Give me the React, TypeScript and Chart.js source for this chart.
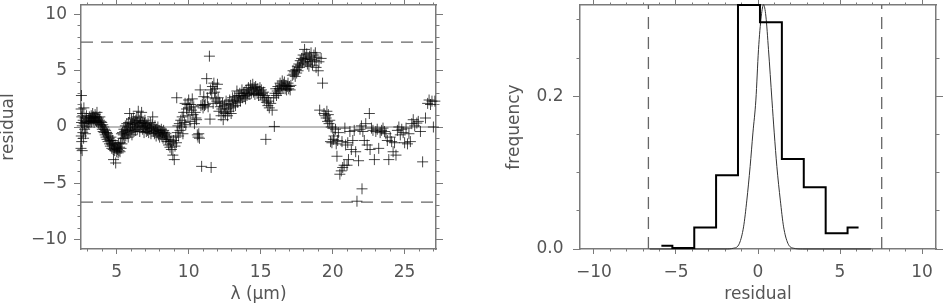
import React, { useEffect, useRef } from 'react';
import { Chart, registerables } from 'chart.js';

Chart.register(...registerables);

// ---------- Left panel: residual vs wavelength ----------
const lambdaUm = [
  2.52, 2.53, 2.54, 2.55, 2.56, 2.57, 2.58, 2.60, 2.61, 2.63, 2.65, 2.67, 2.70, 2.72, 2.74, 2.77, 2.80, 2.83, 2.86, 2.90, 2.93,
  3.00, 3.03, 3.06, 3.10, 3.13, 3.16, 3.20, 3.23, 3.26, 3.30, 3.33, 3.36, 3.40, 3.43, 3.46, 3.50, 3.53, 3.56, 3.60, 3.63, 3.66, 3.70, 3.73, 3.76, 3.80, 3.83, 3.86, 3.90,
  3.93, 3.96, 4.00, 4.03, 4.06, 4.10, 4.13, 4.16, 4.20, 4.23, 4.26, 4.30, 4.33, 4.36, 4.40, 4.43, 4.46, 4.50,
  4.53, 4.56, 4.60, 4.63, 4.66, 4.70, 4.73, 4.76, 4.78, 4.80, 4.83, 4.86, 4.90, 4.93, 4.96, 5.00, 5.03, 5.06, 5.10, 5.13, 5.16, 5.20, 5.23, 5.26, 5.30, 5.33, 5.36, 5.40, 5.43,
  5.46, 5.50, 5.53, 5.56, 5.60, 5.63, 5.66, 5.70, 5.73, 5.76, 5.80, 5.83, 5.86, 5.90, 5.93, 5.96, 6.00, 6.03, 6.06, 6.10, 6.13, 6.16, 6.20, 6.23, 6.26, 6.30, 6.33, 6.36, 6.40, 6.43, 6.46, 6.50, 6.53, 6.56, 6.60, 6.63, 6.66, 6.70, 6.73, 6.76, 6.80, 6.83, 6.86, 6.90, 6.93, 6.96, 7.00, 7.03, 7.06,
  7.10, 7.14, 7.18, 7.22, 7.26, 7.30, 7.34, 7.38, 7.42, 7.46, 7.50, 7.54, 7.58, 7.62, 7.66, 7.70, 7.74, 7.78, 7.82, 7.86, 7.90, 7.94, 7.98, 8.02, 8.06, 8.10, 8.14, 8.18, 8.22, 8.26, 8.30, 8.34, 8.38, 8.42,
  8.46, 8.50, 8.55, 8.60, 8.65, 8.70, 8.75, 8.80, 8.85, 8.90, 8.95, 9.00, 9.05, 9.10, 9.15,
  9.17, 9.20, 9.25, 9.30, 9.35, 9.40, 9.45, 9.50, 9.55, 9.60, 9.65, 9.70, 9.75, 9.80, 9.85, 9.90, 9.95, 10.00, 10.05, 10.10, 10.15, 10.20, 10.25, 10.30, 10.35, 10.40, 10.45, 10.50, 10.55, 10.60, 10.65, 10.70, 10.75,
  10.80, 10.85, 10.90, 10.95, 11.00, 11.05, 11.10, 11.15, 11.25, 11.30, 11.35, 11.44, 11.48, 11.52, 11.56, 11.60, 11.65, 11.70, 11.75, 11.80, 11.85, 11.90, 11.95, 12.00, 12.05, 12.10, 12.15, 12.20, 12.25, 12.30, 12.35, 12.40, 12.45,
  12.50, 12.55, 12.60, 12.65, 12.70, 12.75, 12.80, 12.85, 12.90, 12.95, 13.00, 13.05, 13.10, 13.15, 13.20, 13.25, 13.30, 13.35, 13.40, 13.45, 13.50, 13.55, 13.60, 13.65, 13.70, 13.75, 13.80, 13.85, 13.90, 13.95,
  14.00, 14.05, 14.10, 14.15, 14.20, 14.25, 14.30, 14.35, 14.40, 14.45, 14.50, 14.55, 14.60, 14.65, 14.70, 14.75, 14.80, 14.85, 14.90, 14.95, 15.00, 15.05, 15.10, 15.15, 15.20, 15.25, 15.30, 15.36, 15.40, 15.45, 15.50,
  15.55, 15.60, 15.70, 15.80, 15.90, 15.95, 16.00, 16.05, 16.10, 16.15, 16.20, 16.25, 16.30, 16.35, 16.40, 16.45, 16.50, 16.55, 16.60, 16.65, 16.70, 16.75, 16.80, 16.85, 16.90, 16.95, 17.00, 17.05, 17.10,
  17.20, 17.25, 17.30, 17.35, 17.40, 17.45, 17.50, 17.55, 17.60, 17.65, 17.70, 17.75, 17.80, 17.85, 17.90, 17.95, 18.00, 18.05, 18.10, 18.15, 18.20, 18.25, 18.30, 18.35, 18.40, 18.45, 18.50, 18.55, 18.60,
  18.70, 18.75, 18.80, 18.85, 18.90, 19.00, 19.05, 19.10, 19.20, 19.30,
  19.40, 19.50, 19.55, 19.60, 19.65, 19.70, 19.75, 19.80, 19.85, 19.90, 19.95, 20.00, 20.05, 20.10, 20.20, 20.25, 20.30, 20.35, 20.40,
  20.50, 20.60, 20.65, 20.70, 20.80, 20.85, 20.90, 21.00, 21.05, 21.10, 21.20, 21.30, 21.40, 21.50, 21.60, 21.69, 21.80, 21.90, 22.00, 22.04, 22.10, 22.20, 22.30, 22.40, 22.55, 22.60, 22.70,
  22.80, 22.90, 23.00, 23.10, 23.20, 23.30, 23.40, 23.50, 23.60, 23.70, 23.80, 23.90, 24.00, 24.10, 24.20, 24.30, 24.40, 24.50, 24.60, 24.70, 24.80, 24.90, 25.00, 25.10, 25.20, 25.30, 25.40, 25.50, 25.60, 25.70, 25.85, 25.95, 26.10, 26.25, 26.45, 26.60, 26.70, 26.80, 26.90, 27.00, 27.10,
];

const residual = [
  -1.9, 1.6, -0.8, 2.8, 0.4, -1.3, 0.9, -2.1, 0.1, 1.2, -0.5, 0.6, -1.0, 1.7, 0.3, -0.2, 0.8, -0.6, 0.5, 1.0, 0.0,
  0.4, 0.7, 0.3, 0.9, 0.5, 0.8, 0.6, 1.0, 0.5, 0.8, 1.2, 0.6, 0.9, 0.4, 0.8, 1.1, 0.6, 0.9, 0.5, 1.3, 0.7, 0.4, 0.8, 0.3, 0.6, 0.9, 0.2, 0.5,
  0.1, 0.4, -0.2, 0.2, -0.4, 0.0, -0.5, -0.2, -0.7, -0.3, -0.9, -0.5, -1.1, -0.6, -1.3, -0.8, -1.0, -1.5,
  -1.2, -1.7, -0.9, -1.5, -1.9, -1.2, -1.6, -2.0, -2.9, -1.4, -1.8, -2.1, -1.6, -3.2, -1.9, -2.2, -1.7, -2.0, -2.3, -1.5, -2.1, -1.8, -2.2, -1.4, -1.9, -0.6, -1.5, -0.5, -1.0,
  -0.7, -0.2, -1.0, -0.4, 0.1, -0.8, -0.3, 0.3, -0.6, 0.0, -0.9, 0.4, -0.3, 1.2, -0.5, 0.2, -0.2, 0.7, -0.7, 0.3, -0.1, 0.8, -0.4, 0.2, 0.5, -0.3, 0.6, 0.0, 0.9, -0.2, 0.4, 1.4, 0.1, 0.6, -0.4, 0.3, 0.8, 0.0, 1.3, 0.4, -0.2, 0.5, 0.1, -0.5, 0.3, 0.6, -0.1, 0.2, -0.4,
  0.1, -0.3, 0.3, -0.5, 0.0, -0.2, 0.4, -0.6, -0.1, 0.2, 0.9, -0.4, -0.1, -0.6, 0.1, -0.3, -0.8, -0.2, -0.5, 0.0, -0.7, -0.3, -0.9, -0.4, -0.6, -0.2, -0.8, -0.5, -1.0, -0.3, -0.7, -0.5, -1.1, -0.6,
  -0.9, -1.3, -0.8, -1.6, -1.1, -1.8, -1.3, -2.0, -1.5, -2.5, -1.2, -2.9, -1.7, -0.9, -1.4,
  2.6, -0.5, 0.1, -0.8, 0.3, -0.3, 0.6, 0.0, 0.9, -0.6, 1.3, 0.4, 2.1, 0.2, 1.6, 2.0, 1.0, 2.4, 1.7, 0.5, 2.0, 1.5, 2.5, 1.1, 1.8, 0.3, 1.3, 0.8, 0.65, -0.7, -0.9, -0.6, -1.0,
  3.3, 1.9, -3.5, 2.0, 1.7, 2.7, 1.9, 2.0, 4.3, 2.6, 1.8, 6.3, 0.7, 3.3, -3.6, 3.0, 3.6, 2.1, 3.9, 3.1, 2.5, 3.4, 2.3, 3.8, 2.6, 1.4, 2.2, 1.8, 1.0, 1.6, 2.1, 0.65, 1.3,
  1.9, 1.2, 2.3, 1.6, 1.0, 2.0, 1.4, 2.4, 1.7, 1.2, 2.1, 2.6, 1.8, 2.3, 2.7, 1.9, 2.4, 3.2, 2.2, 2.8, 2.5, 3.0, 2.3, 2.8, 3.3, 2.6, 3.0, 2.7, 3.1, 2.5,
  3.3, 2.8, 3.0, 3.5, 2.9, 3.2, 3.7, 3.0, 3.4, 3.8, 3.1, 3.5, 2.9, 3.6, 3.3, 3.0, 3.4, 2.8, 3.2, 3.5, 2.9, 3.3, 3.0, 2.6, 3.1, 2.4, 2.8, -1.1, 2.2, 2.6, 1.9,
  2.3, 1.7, 2.1, 1.5, 2.6, 0.05, 3.0, 3.4, 2.8, 3.2, 3.6, 3.0, 3.4, 3.9, 3.3, 3.7, 4.1, 3.5, 3.8, 4.0, 3.4, 3.7, 3.3, 3.6, 3.9, 3.4, 3.6, 3.3, 3.7,
  4.6, 5.0, 4.7, 4.9, 4.5, 5.1, 4.8, 5.4, 5.0, 5.6, 5.3, 5.9, 5.5, 6.1, 5.7, 6.4, 6.0, 6.9, 6.2, 5.8, 6.5, 5.6, 6.1, 5.4, 6.3, 5.8, 6.6, 6.0, 5.5,
  6.4, 5.9, 6.6, 5.3, 6.2, 5.0, 5.8, 1.5, 6.1, 3.9,
  1.2, 1.0, 0.8, 1.4, 0.5, 1.1, 0.3, 0.6, -1.3, 0.0, -1.4, -0.1, -1.1, -0.8, -0.2, -1.5, -2.6, -1.2, -0.5,
  -4.2, -3.9, -1.3, -3.6, -3.4, -0.1, -1.6, -3.4, -1.4, -2.9, -0.4, -2.0, -1.2, -0.3, -2.2, -6.6, -3.0, -0.2, 0.1, -5.5, -0.4, -1.2, 0.3, -1.6, 1.2, -2.0, -0.1,
  -0.3, -2.9, -0.4, -0.2, -1.9, -0.5, -0.3, -0.1, -0.4, -0.6, -1.2, -2.9, -0.9, -1.3, -2.2, -1.4, -2.5, -0.3, 0.0, -0.7, -0.2, -0.5, -1.4, -0.1, -1.5, -0.6, -1.3, 0.3, 0.65, 0.1, 0.35, 0.5, -0.4, -3.1, 0.8, 2.1, 2.4, 2.0, 2.3, 0.0, 2.3,
];

const upperLimit = 7.54;
const lowerLimit = -6.68;
const lambdaMin = 2.52;
const lambdaMax = 27.18;
const residualMin = -10.85;
const residualMax = 10.85;

const leftXTicks = [5, 10, 15, 20, 25];
const leftYTicks = [-10, -5, 0, 5, 10];

// ---------- Right panel: histogram of residuals ----------
const binCenters = [-5.89, -4.55, -3.22, -1.89, -0.55, 0.79, 2.12, 3.46, 4.79, 6.13];
const binFrequency = [0.0043, 0.0013, 0.028, 0.0965, 0.3195, 0.297, 0.118, 0.081, 0.0205, 0.028];

const gaussX = [-6.6, -2.0, -1.5, -1.13, -0.88, -0.68, -0.48, -0.31, -0.13, 0.03, 0.2, 0.34, 0.48, 0.64, 0.85, 0.99, 1.15, 1.36, 1.56, 1.82, 2.17, 2.7, 6.9];
const gaussY = [0, 0, 0.001, 0.0075, 0.029, 0.064, 0.108, 0.152, 0.195, 0.261, 0.305, 0.32, 0.305, 0.261, 0.195, 0.152, 0.108, 0.064, 0.029, 0.0075, 0.001, 0, 0];

const histXMin = -10.85;
const histXMax = 10.85;
const freqMin = 0;
const freqMax = 0.3195;

const rightXTicks = [-10, -5, 0, 5, 10];
const rightYTicks = [0, 0.2];

// ---------- styling ----------
const FONT_FAMILY = 'DejaVu Sans';
const FONT = { family: FONT_FAMILY, size: 17, lineHeight: 1 };
const AXIS_COLOR = '#7a7a7a';
const TEXT_COLOR = '#555555';
const DASH = [12, 8];

function steps(a: number, b: number, step: number): number[] {
  const out: number[] = [];
  for (let v = a; v <= b + 1e-9; v += step) out.push(Math.round(v * 1000) / 1000);
  return out;
}

function minusLabel(v: number): string {
  return v < 0 ? '\u2212' + Math.abs(v) : String(v);
}

type AxisSpec = {
  position: 'left' | 'right' | 'top' | 'bottom';
  min: number;
  max: number;
  ticks: number[];
  tickLength: number;
  size: number;
  weight: number;
  border?: boolean;
  labels?: (v: number) => string;
  padding?: number;
  title?: string;
  titlePad?: number;
};

function makeAxis(s: AxisSpec): any {
  const horizontal = s.position === 'top' || s.position === 'bottom';
  return {
    type: 'linear',
    position: s.position,
    axis: horizontal ? 'x' : 'y',
    min: s.min,
    max: s.max,
    weight: s.weight,
    afterBuildTicks: (scale: any) => {
      scale.ticks = s.ticks.map((v) => ({ value: v }));
    },
    afterFit: (scale: any) => {
      if (horizontal) scale.height = s.size;
      else scale.width = s.size;
      scale.paddingTop = 0;
      scale.paddingBottom = 0;
      scale.paddingLeft = 0;
      scale.paddingRight = 0;
    },
    grid: {
      display: true,
      drawOnChartArea: false,
      drawTicks: true,
      tickLength: s.tickLength,
      color: AXIS_COLOR,
      tickColor: AXIS_COLOR,
      lineWidth: 1,
      tickWidth: 1,
    },
    border: { display: !!s.border, color: AXIS_COLOR, width: 1.5 },
    ticks: {
      display: !!s.labels,
      callback: s.labels ? (v: any) => s.labels!(Number(v)) : () => '',
      font: FONT,
      color: TEXT_COLOR,
      padding: s.padding ?? 0,
      autoSkip: false,
      maxRotation: 0,
      minRotation: 0,
      includeBounds: false,
    },
    title: s.title
      ? {
          display: true,
          text: s.title,
          font: FONT,
          color: TEXT_COLOR,
          padding: { top: s.titlePad ?? 0, bottom: s.titlePad ?? 0 },
        }
      : { display: false },
  };
}

const baseOptions = {
  responsive: false,
  maintainAspectRatio: false,
  animation: false as const,
  events: [] as any[],
  layout: { padding: 0, autoPadding: false },
  plugins: { legend: { display: false }, tooltip: { enabled: false } },
};

function leftConfig(): any {
  const pts = lambdaUm.map((x, i) => ({ x, y: residual[i] }));
  return {
    type: 'line',
    data: {
      datasets: [
        {
          data: pts,
          showLine: false,
          pointStyle: 'cross',
          pointRadius: 5.5,
          pointBorderWidth: 1,
          pointBorderColor: 'rgba(0,0,0,0.72)',
          borderColor: 'rgba(0,0,0,0.72)',
          clip: false,
        },
        {
          data: [{ x: lambdaMin, y: 0 }, { x: lambdaMax, y: 0 }],
          showLine: true,
          borderColor: '#777777',
          borderWidth: 1,
          pointRadius: 0,
        },
        {
          data: [{ x: lambdaMin, y: upperLimit }, { x: lambdaMax, y: upperLimit }],
          showLine: true,
          borderColor: '#666666',
          borderWidth: 1.3,
          borderDash: DASH,
          pointRadius: 0,
        },
        {
          data: [{ x: lambdaMin, y: lowerLimit }, { x: lambdaMax, y: lowerLimit }],
          showLine: true,
          borderColor: '#666666',
          borderWidth: 1.3,
          borderDash: DASH,
          pointRadius: 0,
        },
      ],
    },
    options: {
      ...baseOptions,
      scales: {
        x: makeAxis({ position: 'bottom', min: lambdaMin, max: lambdaMax, ticks: leftXTicks, tickLength: 5, size: 57, weight: 1, border: true, labels: minusLabel, padding: 10, title: '\u03bb (\u03bcm)', titlePad: 2.5 }),
        xMinor: makeAxis({ position: 'bottom', min: lambdaMin, max: lambdaMax, ticks: steps(3, 27, 1), tickLength: 2.5, size: 0, weight: 0 }),
        xTop: makeAxis({ position: 'top', min: lambdaMin, max: lambdaMax, ticks: leftXTicks, tickLength: 5, size: 5, weight: 1, border: true }),
        xTopMinor: makeAxis({ position: 'top', min: lambdaMin, max: lambdaMax, ticks: steps(3, 27, 1), tickLength: 2.5, size: 0, weight: 0 }),
        y: makeAxis({ position: 'left', min: residualMin, max: residualMax, ticks: leftYTicks, tickLength: 7, size: 81, weight: 1, border: true, labels: minusLabel, padding: 7, title: 'residual', titlePad: 0 }),
        yMinor: makeAxis({ position: 'left', min: residualMin, max: residualMax, ticks: steps(-10, 10, 1), tickLength: 3.5, size: 0, weight: 0 }),
        yRight: makeAxis({ position: 'right', min: residualMin, max: residualMax, ticks: leftYTicks, tickLength: 7, size: 24, weight: 1, border: true }),
        yRightMinor: makeAxis({ position: 'right', min: residualMin, max: residualMax, ticks: steps(-10, 10, 1), tickLength: 3.5, size: 0, weight: 0 }),
      },
    },
  };
}

function rightConfig(): any {
  return {
    type: 'line',
    data: {
      datasets: [
        {
          data: binCenters.map((x, i) => ({ x, y: binFrequency[i] })),
          showLine: true,
          stepped: 'middle',
          borderColor: '#000000',
          borderWidth: 2,
          pointRadius: 0,
          clip: false,
        },
        {
          data: gaussX.map((x, i) => ({ x, y: gaussY[i] })),
          showLine: true,
          cubicInterpolationMode: 'monotone',
          borderColor: '#333333',
          borderWidth: 1,
          pointRadius: 0,
          clip: false,
        },
        {
          data: [{ x: lowerLimit, y: freqMin }, { x: lowerLimit, y: freqMax }],
          showLine: true,
          borderColor: '#666666',
          borderWidth: 1.3,
          borderDash: DASH,
          pointRadius: 0,
        },
        {
          data: [{ x: upperLimit, y: freqMin }, { x: upperLimit, y: freqMax }],
          showLine: true,
          borderColor: '#666666',
          borderWidth: 1.3,
          borderDash: DASH,
          pointRadius: 0,
        },
      ],
    },
    options: {
      ...baseOptions,
      scales: {
        x: makeAxis({ position: 'bottom', min: histXMin, max: histXMax, ticks: rightXTicks, tickLength: 5, size: 57, weight: 1, border: true, labels: minusLabel, padding: 10, title: 'residual', titlePad: 2.5 }),
        xMinor: makeAxis({ position: 'bottom', min: histXMin, max: histXMax, ticks: steps(-10, 10, 1), tickLength: 2.5, size: 0, weight: 0 }),
        xTop: makeAxis({ position: 'top', min: histXMin, max: histXMax, ticks: rightXTicks, tickLength: 5, size: 5, weight: 1, border: true }),
        xTopMinor: makeAxis({ position: 'top', min: histXMin, max: histXMax, ticks: steps(-10, 10, 1), tickLength: 2.5, size: 0, weight: 0 }),
        y: makeAxis({ position: 'left', min: freqMin, max: freqMax, ticks: rightYTicks, tickLength: 7, size: 110, weight: 1, border: true, labels: (v) => v.toFixed(1), padding: 9.5, title: 'frequency', titlePad: 36.5 }),
        yMinor: makeAxis({ position: 'left', min: freqMin, max: freqMax, ticks: steps(0, 0.3, 0.05), tickLength: 3.5, size: 0, weight: 0 }),
        yRight: makeAxis({ position: 'right', min: freqMin, max: freqMax, ticks: rightYTicks, tickLength: 7, size: 7, weight: 1, border: true }),
        yRightMinor: makeAxis({ position: 'right', min: freqMin, max: freqMax, ticks: steps(0, 0.3, 0.05), tickLength: 3.5, size: 0, weight: 0 }),
      },
    },
  };
}

export default function App() {
  const leftRef = useRef<HTMLCanvasElement>(null);
  const rightRef = useRef<HTMLCanvasElement>(null);

  useEffect(() => {
    const a = new Chart(leftRef.current!, leftConfig());
    const b = new Chart(rightRef.current!, rightConfig());
    return () => {
      a.destroy();
      b.destroy();
    };
  }, []);

  return (
    <div style={{ position: 'absolute', left: 0, top: 0, width: 943, height: 306, background: '#ffffff', overflow: 'hidden' }}>
      <canvas ref={leftRef} width={460} height={306} style={{ position: 'absolute', left: 0, top: 0, width: 460, height: 306 }} />
      <canvas ref={rightRef} width={473} height={306} style={{ position: 'absolute', left: 470, top: 0, width: 473, height: 306 }} />
    </div>
  );
}
